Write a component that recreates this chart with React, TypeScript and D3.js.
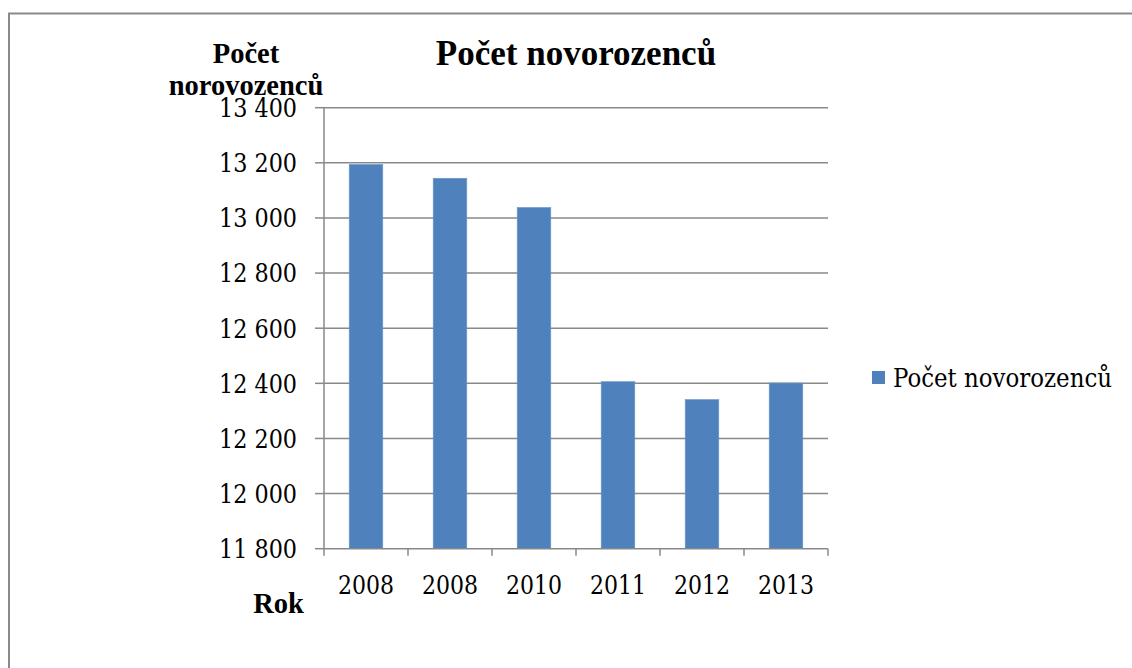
import * as d3 from 'd3';

const years = ['2008', '2008', '2010', '2011', '2012', '2013'];
const births = [13194, 13144, 13038, 12406, 12341, 12401];
const yTicks = [11800, 12000, 12200, 12400, 12600, 12800, 13000, 13200, 13400];
const seriesName = 'Počet novorozenců';

const W = 1132;
const H = 668;
const left = 324;
const right = 828;
const top = 107.7;
const bottom = 548.7;
const FONT_B = "'Liberation Serif', 'Times New Roman', serif";
const FONT_R = "'DejaVu Serif Condensed', 'DejaVu Serif', serif";
const GRID = '#898989';

const fmt = d3.formatLocale({ decimal: ',', thousands: ' ', grouping: [3], currency: ['', ''] }).format(',d');

export default function App() {
  const idx = years.map((_, i) => String(i));
  const x = d3.scaleBand().domain(idx).range([left, right]).paddingInner(0.6).paddingOuter(0.3);
  const y = d3.scaleLinear().domain([11800, 13400]).range([bottom, top]);
  const step = x.step();
  const bounds = d3.range(years.length + 1).map(i => left + i * step);
  const bold = { fontFamily: FONT_B };
  const reg = { fontFamily: FONT_R };

  return (
    <svg width={W} height={H} style={{ position: 'absolute', left: 0, top: 0, background: '#fff' }}>
      {/* frame (only top and left visible) */}
      <path d={`M9,${H + 10} V13.5 H${W + 10}`} fill="none" stroke={GRID} strokeWidth={2} />

      <text style={bold} x={576} y={65} textAnchor="middle" fontSize={35} fontWeight="bold">{seriesName}</text>

      <text style={bold} x={246} y={63} textAnchor="middle" fontSize={28.5} fontWeight="bold">Počet</text>
      <text style={bold} x={246} y={95} textAnchor="middle" fontSize={28.5} fontWeight="bold">norovozenců</text>

      {/* gridlines */}
      {yTicks.map(t => (
        <g key={t}>
          {t > 11800 && (
            <line x1={left} x2={right} y1={y(t)} y2={y(t)} stroke={GRID} strokeWidth={1.5} />
          )}
          <line x1={left - 9} x2={left} y1={y(t)} y2={y(t)} stroke={GRID} strokeWidth={1.5} />
          <text style={reg} x={297} y={y(t)} dy="0.36em" textAnchor="end" fontSize={26}
            textLength={78} lengthAdjust="spacingAndGlyphs">{fmt(t)}</text>
        </g>
      ))}

      {/* bars */}
      {births.map((v, i) => (
        <rect key={i} x={x(String(i))} y={y(v)} width={x.bandwidth()} height={bottom - y(v)}
          fill="#4F81BD" stroke="#6b96cb" strokeWidth={0.6} />
      ))}

      {/* axes */}
      <line x1={left} x2={left} y1={top} y2={bottom} stroke={GRID} strokeWidth={1.5} />
      <line x1={left} x2={right} y1={bottom} y2={bottom} stroke={GRID} strokeWidth={1.5} />
      {bounds.map((bx, i) => (
        <line key={i} x1={bx} x2={bx} y1={bottom} y2={bottom + 7} stroke={GRID} strokeWidth={1.5} />
      ))}
      {years.map((yr, i) => (
        <text style={reg} key={i} x={(x(String(i)) as number) + x.bandwidth() / 2} y={594} textAnchor="middle" fontSize={26}
          textLength={56} lengthAdjust="spacingAndGlyphs">
          {yr}
        </text>
      ))}
      <text style={bold} x={278.5} y={612.7} textAnchor="middle" fontSize={28.5} fontWeight="bold">Rok</text>

      {/* legend */}
      <rect x={872} y={371} width={13} height={13} fill="#4F81BD" />
      <text style={reg} x={893} y={387} fontSize={26} textLength={219} lengthAdjust="spacingAndGlyphs">{seriesName}</text>
    </svg>
  );
}
